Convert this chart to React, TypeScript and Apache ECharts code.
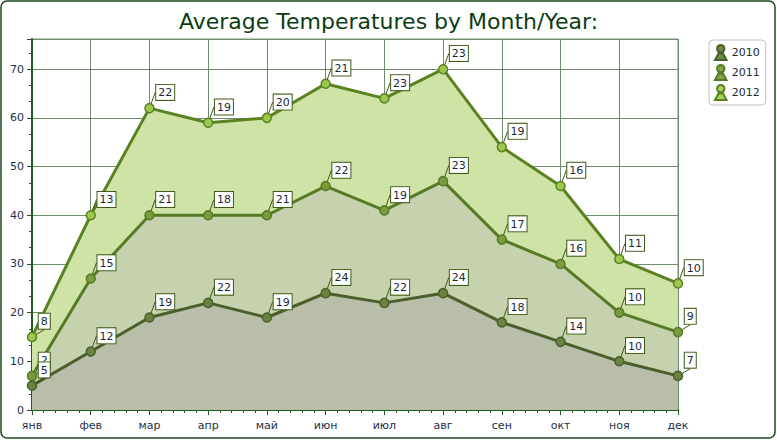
import React, { useEffect, useRef } from "react";
import * as echarts from "echarts";

const months = ["янв", "фев", "мар", "апр", "май", "июн", "июл", "авг", "сен", "окт", "ноя", "дек"];
const years = ["2010", "2011", "2012"];
const t2010 = [5, 12, 19, 22, 19, 24, 22, 24, 18, 14, 10, 7];
const t2011 = [2, 15, 21, 18, 21, 22, 19, 23, 17, 16, 10, 9];
const t2012 = [8, 13, 22, 19, 20, 21, 23, 23, 19, 16, 11, 10];

const lineColors = ["#4b5f2c", "#567a26", "#5a8220"];
const areaColors = ["#b9bea8", "#c6d2ad", "#d0e3a6"];
const markerColors = ["#6a8440", "#7a9b40", "#9dc74f"];
const legendColors = ["#6d8a45", "#86a34c", "#a6d15a"];

const personIcon = "path://M5,0 A3.2,3.2 0 1,1 5,6.4 A3.2,3.2 0 1,1 5,0 Z M0,13 L3,7.4 L7,7.4 L10,13 Z";

export default function App() {
  const ref = useRef<HTMLDivElement>(null);
  useEffect(() => {
    const chart = echarts.init(ref.current!, undefined, { renderer: "svg" });
    const font = "DejaVu Sans";
    const dataSets = [t2010, t2011, t2012];
    const series = dataSets.map((d, i) => ({
      name: years[i],
      type: "line",
      stack: "total",
      data: d,
      symbol: "circle",
      symbolSize: 9,
      lineStyle: { color: lineColors[i], width: 3 },
      itemStyle: { color: markerColors[i], borderColor: lineColors[i], borderWidth: 1.5 },
      areaStyle: { color: areaColors[i], opacity: 1 },
      z: 10 - i,
      label: {
        show: true,
        position: [12, -18],
        formatter: (p: any) => String(p.value),
        backgroundColor: "#ffffff",
        borderColor: "#3d5a16",
        borderWidth: 1,
        padding: [1, 2, 0, 2],
        color: "#1a2a3a",
        fontFamily: font,
        fontSize: 11,
        lineHeight: 14,
      },
      labelLine: { show: true, lineStyle: { color: "#3d5a16", width: 1 } },
    }));
    chart.setOption({
      animation: false,
      backgroundColor: "#ffffff",
      title: {
        text: "Average Temperatures by Month/Year:",
        left: "center",
        top: 5,
        textStyle: { fontFamily: font, fontSize: 22, fontWeight: "normal", color: "#0b3d12" },
      },
      legend: {
        data: years.map((y, i) => ({ name: y, icon: personIcon, itemStyle: { color: legendColors[i] } })),
        orient: "vertical",
        left: 709,
        top: 40,
        itemWidth: 16,
        itemHeight: 15,
        itemGap: 3,
        padding: [4, 6, 4, 5],
        borderColor: "#c0c0c0",
        borderWidth: 1,
        borderRadius: 4,
        textStyle: { fontFamily: font, fontSize: 11, color: "#1a2a3a", padding: [0, 0, 0, -2] },
      },
      grid: { left: 32, right: 99, top: 39, bottom: 30, show: true, borderColor: "#7a947a", borderWidth: 1 },
      xAxis: [
        {
          type: "category",
          data: months,
          boundaryGap: false,
          axisLine: { lineStyle: { color: "#1f5a1f", width: 2 } },
          axisTick: { show: false },
          axisLabel: { color: "#1a2f4a", fontFamily: font, fontSize: 11, margin: 10 },
          splitLine: { show: true, lineStyle: { color: "#6f8c6f", width: 1 } },
        },
        {
          type: "value",
          min: 0,
          max: 11,
          interval: 1,
          position: "bottom",
          axisLine: { show: false },
          axisLabel: { show: false },
          axisTick: { show: true, length: 5, lineStyle: { color: "#1f5a1f" } },
          minorTick: { show: true, splitNumber: 5, length: 3, lineStyle: { color: "#1f5a1f" } },
          splitLine: { show: false },
        },
      ],
      yAxis: {
        type: "value",
        min: 0,
        max: 76.2,
        interval: 10,
        axisLine: { show: true, lineStyle: { color: "#1f5a1f", width: 2 } },
        axisTick: { show: true, length: 5, lineStyle: { color: "#1f5a1f" } },
        minorTick: { show: true, splitNumber: 3, length: 3, lineStyle: { color: "#1f5a1f" } },
        axisLabel: { color: "#1a2f4a", fontFamily: font, fontSize: 11, margin: 8, showMaxLabel: false },
        splitLine: { show: true, lineStyle: { color: "#6f8c6f", width: 1 } },
      },
      graphic: [
        {
          type: "rect",
          shape: { x: 1, y: 1, width: 774, height: 437, r: 6 },
          style: { fill: "none", stroke: "#1a4a1a", lineWidth: 1.5 },
          silent: true,
        },
      ],
      series,
    });
    return () => chart.dispose();
  }, []);
  return <div ref={ref} style={{ position: "fixed", left: 0, top: 0, width: 777, height: 440 }} />;
}
